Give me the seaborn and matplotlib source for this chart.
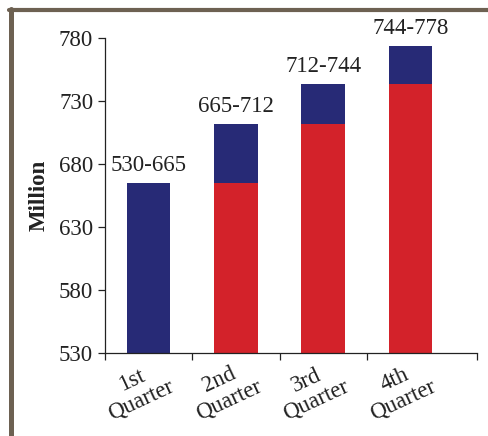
import matplotlib
matplotlib.use("Agg")
import matplotlib.pyplot as plt
import matplotlib.transforms as mtransforms
from matplotlib.lines import Line2D
import pandas as pd
import seaborn as sns

# data
quarters = ["1st\nQuarter", "2nd\nQuarter", "3rd\nQuarter", "4th\nQuarter"]
low = [530, 665, 712, 744]     # top of the red part
high = [665, 712, 744, 774]    # top of the blue part
range_labels = ["530-665", "665-712", "712-744", "744-778"]

df = pd.DataFrame({"quarter": quarters, "low": low, "high": high})

sns.set_style("ticks")
plt.rcParams["font.family"] = ["Liberation Serif", "DejaVu Serif"]
plt.rcParams["font.size"] = 16

blue = "#272a76"
red = "#d3222a"
ink = "#222222"

fig = plt.figure(figsize=(4.89, 4.36), dpi=100)
ax = fig.add_axes([0.2147, 0.190, 0.7608, 0.7225])

# blue = full bar, red drawn over the lower part
sns.barplot(data=df, x="quarter", y="high", color=blue, width=0.5, saturation=1,
            linewidth=0, ax=ax)
sns.barplot(data=df, x="quarter", y="low", color=red, width=0.5, saturation=1,
            linewidth=0, ax=ax)

ax.bar_label(ax.containers[0], labels=range_labels, padding=5, fontsize=16.5, color=ink)

ax.set_ylim(530, 780)
ax.set_yticks(range(530, 781, 50))
ax.set_xlim(-0.5, 3.76)

# tick marks between categories, labels at category centres
ax.set_xticks([-0.5, 0.5, 1.5, 2.5, 3.76], minor=True)
ax.tick_params(axis="x", which="major", length=0, pad=2)
ax.tick_params(axis="x", which="minor", length=5, width=0.9, color=ink)
ax.tick_params(axis="y", length=5, width=0.9, color=ink, labelsize=16.5, labelcolor=ink)
ax.set_xticks(range(len(quarters)))
ax.set_xticklabels(quarters, rotation=25, ha="center", va="top",
                   multialignment="center", fontsize=16.5, color=ink,
                   linespacing=1.05)
shift = mtransforms.ScaledTranslation(-12 / 100, 0, fig.dpi_scale_trans)
for lab in ax.get_xticklabels():
    lab.set_transform(lab.get_transform() + shift)

ax.set_xlabel("")
ax.set_ylabel("Million", fontsize=16.5, fontweight="bold", labelpad=7, color=ink)

sns.despine(ax=ax)
for s in ["left", "bottom"]:
    ax.spines[s].set_linewidth(0.9)
    ax.spines[s].set_color(ink)

# frame at top and left of the figure
frame = "#6d6152"
fig.add_artist(Line2D([0.0185, 1.0], [0.9765, 0.9765], color=frame, lw=3, transform=fig.transFigure))
fig.add_artist(Line2D([0.0235, 0.0235], [0.0, 0.98], color=frame, lw=3.6, transform=fig.transFigure))

fig.savefig("out.png", dpi=100)
